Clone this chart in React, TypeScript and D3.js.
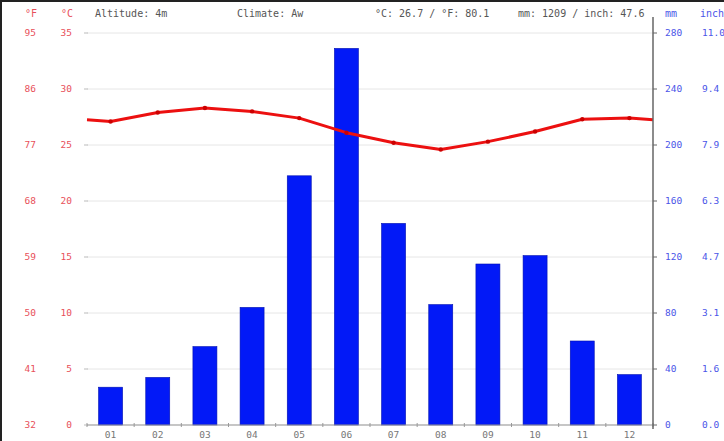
import { useEffect, useRef } from "react"
import * as d3 from "d3"

const months = ["01", "02", "03", "04", "05", "06", "07", "08", "09", "10", "11", "12"]
const precip = [27, 34, 56, 84, 178, 269, 144, 86, 115, 121, 60, 36]
const temp = [27.1, 27.9, 28.3, 28.0, 27.4, 26.1, 25.2, 24.6, 25.3, 26.2, 27.3, 27.4]
const cTicks = [0, 5, 10, 15, 20, 25, 30, 35]
const fTicks = ["32", "41", "50", "59", "68", "77", "86", "95"]
const mmTicks = [0, 40, 80, 120, 160, 200, 240, 280]
const inchTicks = ["0.0", "1.6", "3.1", "4.7", "6.3", "7.9", "9.4", "11.0"]
const header = [
  { t: "Altitude: 4m", x: 95 },
  { t: "Climate: Aw", x: 237 },
  { t: "°C: 26.7 / °F: 80.1", x: 375 },
  { t: "mm: 1209 / inch: 47.6", x: 518 },
]

const FONT = "'DejaVu Sans Mono', monospace"
const RED = "#e8505a"
const BLUE = "#4a55e8"

export default function App() {
  const ref = useRef<SVGSVGElement>(null)
  useEffect(() => {
    if (!ref.current) return
    const svg = d3.select(ref.current)
    svg.selectAll("*").remove()
    const L = 87, R = 653, T = 33, B = 425

    const x = d3.scaleBand().domain(months).range([L, R])
    const yT = d3.scaleLinear().domain([0, 35]).range([B, T])
    const yP = d3.scaleLinear().domain([0, 280]).range([B, T])

    svg.append("rect").attr("width", 724).attr("height", 441).attr("fill", "#fff")
    // frame
    svg.append("rect").attr("x", 1).attr("y", 1).attr("width", 760).attr("height", 480)
      .attr("fill", "none").attr("stroke", "#222").attr("stroke-width", 2)

    // grid
    svg.append("g").selectAll("line").data(cTicks).join("line")
      .attr("x1", L).attr("x2", R).attr("y1", d => yT(d)).attr("y2", d => yT(d))
      .attr("stroke", "#e6e6e6").attr("stroke-width", 1)

    // left ticks
    svg.append("g").selectAll("line").data(cTicks).join("line")
      .attr("x1", L - 3).attr("x2", L + 1).attr("y1", d => yT(d)).attr("y2", d => yT(d))
      .attr("stroke", "#bbb")
    svg.append("g").selectAll("text").data(cTicks).join("text")
      .attr("x", 72).attr("y", d => yT(d) + 3).attr("text-anchor", "end")
      .style("font", `9.5px ${FONT}`).style("fill", RED).text(d => String(d))
    svg.append("g").selectAll("text").data(fTicks).join("text")
      .attr("x", 36).attr("y", (d, i) => yT(cTicks[i]) + 3).attr("text-anchor", "end")
      .style("font", `9.5px ${FONT}`).style("fill", RED).text(d => d)

    // bars
    const bw = 24
    svg.append("g").selectAll("rect").data(precip).join("rect")
      .attr("x", (d, i) => x(months[i])! + x.bandwidth() / 2 - bw / 2)
      .attr("width", bw)
      .attr("y", d => yP(d)).attr("height", d => B - yP(d))
      .attr("fill", "#0219f7").attr("stroke", "#0010b0").attr("stroke-width", 0.6)

    // bottom axis
    svg.append("line").attr("x1", L).attr("x2", R).attr("y1", B).attr("y2", B).attr("stroke", "#999")
    svg.append("g").selectAll("line").data(d3.range(13)).join("line")
      .attr("x1", i => L + i * x.step()).attr("x2", i => L + i * x.step())
      .attr("y1", B - 2).attr("y2", B + 2).attr("stroke", "#999")
    svg.append("g").selectAll("text").data(months).join("text")
      .attr("x", d => x(d)! + x.bandwidth() / 2).attr("y", 438).attr("text-anchor", "middle")
      .style("font", `9.5px ${FONT}`).style("fill", "#777").text(d => d)

    // temperature line, extended to the edges with the Dec/Jan mean
    const edge = (temp[0] + temp[11]) / 2
    const pts: [number, number][] = [[L, yT(edge)],
      ...temp.map((t, i) => [x(months[i])! + x.bandwidth() / 2, yT(t)] as [number, number]),
      [R, yT(edge)]]
    svg.append("path").attr("d", d3.line()(pts)).attr("fill", "none")
      .attr("stroke", "#ec1010").attr("stroke-width", 3).attr("stroke-linejoin", "round")
    svg.append("g").selectAll("circle").data(temp).join("circle")
      .attr("cx", (d, i) => x(months[i])! + x.bandwidth() / 2).attr("cy", d => yT(d)).attr("r", 2.2)
      .attr("fill", "#c00")

    // right axis
    svg.append("line").attr("x1", R).attr("x2", R).attr("y1", 17).attr("y2", B + 4)
      .attr("stroke", "#666").attr("stroke-width", 1.5)
    svg.append("g").selectAll("line").data(mmTicks).join("line")
      .attr("x1", R).attr("x2", R + 4).attr("y1", d => yP(d)).attr("y2", d => yP(d)).attr("stroke", "#666")
    svg.append("g").selectAll("text").data(mmTicks).join("text")
      .attr("x", 665).attr("y", d => yP(d) + 3)
      .style("font", `9.5px ${FONT}`).style("fill", BLUE).text(d => String(d))
    svg.append("g").selectAll("text").data(inchTicks).join("text")
      .attr("x", 702).attr("y", (d, i) => yP(mmTicks[i]) + 3)
      .style("font", `9.5px ${FONT}`).style("fill", BLUE).text(d => d)

    // header
    svg.append("text").attr("x", 37).attr("y", 17).attr("text-anchor", "end")
      .style("font", `10px ${FONT}`).style("fill", RED).text("°F")
    svg.append("text").attr("x", 73).attr("y", 17).attr("text-anchor", "end")
      .style("font", `10px ${FONT}`).style("fill", RED).text("°C")
    svg.append("text").attr("x", 665).attr("y", 17)
      .style("font", `10px ${FONT}`).style("fill", BLUE).text("mm")
    svg.append("text").attr("x", 700).attr("y", 17)
      .style("font", `10px ${FONT}`).style("fill", BLUE).text("inch")
    svg.append("g").selectAll("text").data(header).join("text")
      .attr("x", d => d.x).attr("y", 17)
      .style("font", `10px ${FONT}`).style("fill", "#555").text(d => d.t)
  }, [])
  return <svg ref={ref} width={724} height={441} style={{ position: "absolute", left: 0, top: 0, display: "block" }} />
}
